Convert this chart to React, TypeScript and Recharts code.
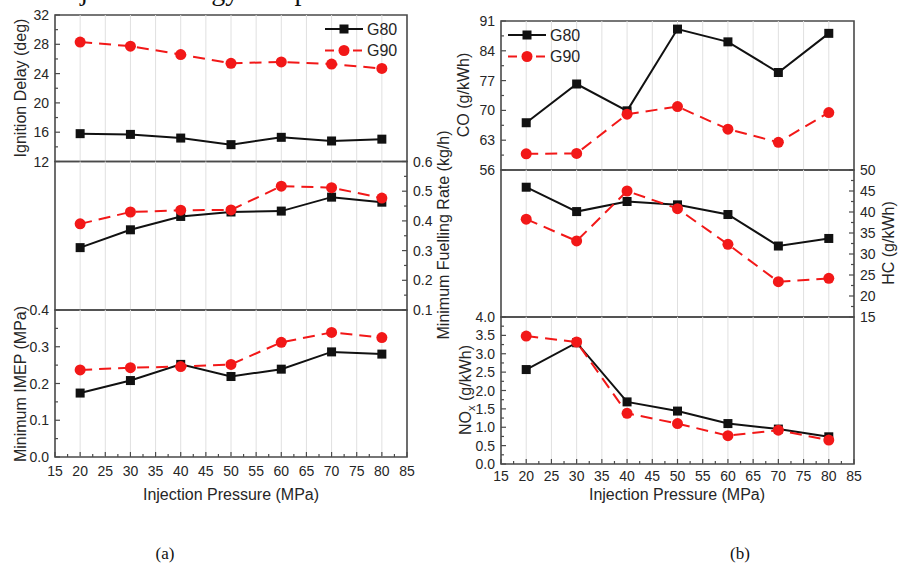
import React from 'react';
import { LineChart, Line, XAxis, YAxis, ReferenceLine, ReferenceArea, Legend } from 'recharts';

const W = 898;
const H = 564;
const LW = 50;
const RW = 44;
const XH = 40;

const FRAME = '#4a4a4a';
const GRID = '#e0e0e0';
const TEXT = '#262626';
const BLACK = '#111111';
const RED = '#f21818';
const SANS = '"Liberation Sans", Arial, Helvetica, sans-serif';
const SERIF = '"Liberation Serif", "Times New Roman", serif';

// ---- data ----
const pressure = [20, 30, 40, 50, 60, 70, 80];
const seriesNames = ['G80', 'G90'];

const ignitionG80 = [15.8, 15.7, 15.2, 14.3, 15.3, 14.8, 15.05];
const ignitionG90 = [28.3, 27.75, 26.6, 25.4, 25.6, 25.3, 24.7];
const fuelG80 = [0.31, 0.37, 0.415, 0.43, 0.433, 0.48, 0.463];
const fuelG90 = [0.39, 0.43, 0.436, 0.437, 0.517, 0.512, 0.477];
const imepG80 = [0.174, 0.208, 0.252, 0.219, 0.239, 0.286, 0.28];
const imepG90 = [0.237, 0.243, 0.246, 0.252, 0.312, 0.339, 0.325];
const coG80 = [67.1, 76.2, 69.9, 89.1, 86.1, 78.9, 88.1];
const coG90 = [59.8, 59.9, 69.1, 70.9, 65.6, 62.5, 69.5];
const hcG80 = [45.9, 40.1, 42.5, 41.7, 39.4, 31.9, 33.7];
const hcG90 = [38.3, 33.1, 45.0, 40.8, 32.3, 23.4, 24.2];
const noxG80 = [2.57, 3.3, 1.69, 1.44, 1.1, 0.95, 0.74];
const noxG90 = [3.48, 3.32, 1.38, 1.1, 0.77, 0.92, 0.65];

// ---- tick labels ----
const xMajor = [15, 20, 25, 30, 35, 40, 45, 50, 55, 60, 65, 70, 75, 80, 85];
const gridX = [20, 25, 30, 35, 40, 45, 50, 55, 60, 65, 70, 75, 80];
const ignitionTicks = [12, 16, 20, 24, 28, 32];
const fuelTicks = [0.1, 0.2, 0.3, 0.4, 0.5, 0.6];
const imepTicks = [0, 0.1, 0.2, 0.3, 0.4];
const coTicks = [56, 63, 70, 77, 84, 91];
const hcTicks = [15, 20, 25, 30, 35, 40, 45, 50];
const noxTicks = [0, 0.5, 1, 1.5, 2, 2.5, 3, 3.5, 4];

const withMinor = (m: number[]) => {
  const out: number[] = [];
  m.forEach((v, i) => {
    out.push(v);
    if (i < m.length - 1) out.push((v + m[i + 1]) / 2);
  });
  return out;
};

type Box = { x0: number; x1: number; y0: number; y1: number };

const isIn = (arr: number[], v: number) => arr.some((m) => Math.abs(m - v) < 1e-9);

function makeYTick(box: Box, side: 'left' | 'right', majors: number[], digits: number) {
  return (p: any) => {
    const v = p.payload.value as number;
    const y = p.y as number;
    const major = isIn(majors, v);
    const ax = side === 'left' ? box.x0 : box.x1;
    const len = major ? 5 : 3;
    const x2 = side === 'left' ? ax + len : ax - len;
    return (
      <g key={`yt-${v}`}>
        <line x1={ax} y1={y} x2={x2} y2={y} stroke={FRAME} strokeWidth={1.2} />
        {major && (
          <text x={p.x} y={y} dy="0.36em" textAnchor={side === 'left' ? 'end' : 'start'} fontSize={14} fill={TEXT} fontFamily={SANS}>
            {v.toFixed(digits)}
          </text>
        )}
      </g>
    );
  };
}

function makeXTick(box: Box, labelOffset: number) {
  return (p: any) => {
    const v = p.payload.value as number;
    const x = p.x as number;
    const major = isIn(xMajor, v);
    return (
      <g key={`xt-${v}`}>
        <line x1={x} y1={box.y1} x2={x} y2={box.y1 - (major ? 5 : 3)} stroke={FRAME} strokeWidth={1.2} />
        {major && (
          <text x={x} y={box.y1 + labelOffset} textAnchor="middle" fontSize={14} fill={TEXT} fontFamily={SANS}>
            {v}
          </text>
        )}
      </g>
    );
  };
}

const vText = (x: number, y: number, content: React.ReactNode) => (
  <text x={x} y={y} transform={`rotate(-90 ${x} ${y})`} textAnchor="middle" dy="0.35em" fontSize={16} fill={TEXT} fontFamily={SANS}>
    {content}
  </text>
);

const vTitle = (x: number, y: number, content: React.ReactNode, extra?: React.ReactNode) => () => (
  <g>
    {vText(x, y, content)}
    {extra}
  </g>
);

const hTitle = (x: number, y: number, text: string, caption: string, cx: number) => () => (
  <g>
    <text x={x} y={y} textAnchor="middle" fontSize={16} fill={TEXT} fontFamily={SANS}>
      {text}
    </text>
    <text x={cx} y={559} textAnchor="middle" fontSize={17} fill="#111" fontFamily={SERIF}>
      {caption}
    </text>
  </g>
);

const squareDot = (p: any) => (
  <rect key={`sq-${p.index}`} x={p.cx - 4.5} y={p.cy - 4.5} width={9} height={9} fill={BLACK} />
);

const renderLegend = () => (
  <svg width={90} height={46} style={{ display: 'block', overflow: 'visible' }}>
    {seriesNames.map((name, i) => {
      const cy = 12 + i * 21.5;
      return (
        <g key={name}>
          {i === 0 ? (
            <>
              <line x1={4} x2={42} y1={cy} y2={cy} stroke={BLACK} strokeWidth={2} />
              <rect x={23 - 4.5} y={cy - 4.5} width={9} height={9} fill={BLACK} />
            </>
          ) : (
            <>
              <line x1={4} x2={42} y1={cy} y2={cy} stroke={RED} strokeWidth={2} strokeDasharray="9 5" />
              <circle cx={23} cy={cy} r={5.5} fill={RED} />
            </>
          )}
          <text x={46} y={cy} dy="0.36em" fontSize={16} fill={TEXT} fontFamily={SANS}>
            {name}
          </text>
        </g>
      );
    })}
  </svg>
);

type PanelProps = {
  g80: number[];
  g90: number[];
  box: Box;
  side: 'left' | 'right';
  majors: number[];
  digits: number;
  bottom?: boolean;
  xLabelOffset?: number;
  yTitle: () => React.ReactElement;
  xTitle?: () => React.ReactElement;
  legendPos?: { left: number; top: number };
};

function Panel(props: PanelProps) {
  const { g80, g90, box, side, majors, digits, bottom, legendPos } = props;
  const rows = pressure.map((p, i) => ({ p, g80: g80[i], g90: g90[i] }));
  const yMin = majors[0];
  const yMax = majors[majors.length - 1];
  const yTicks = withMinor(majors);
  const margin = {
    top: box.y0,
    left: box.x0 - LW,
    right: W - box.x1 - RW,
    bottom: H - box.y1 - XH,
  };
  const other = side === 'left' ? 'right' : 'left';
  return (
    <div style={{ position: 'absolute', left: 0, top: 0, width: W, height: H }}>
      <LineChart width={W} height={H} margin={margin} data={rows}>
        {gridX.map((v) => (
          <ReferenceLine key={`g${v}`} x={v} yAxisId={side} stroke={GRID} strokeWidth={1} />
        ))}
        <ReferenceArea
          x1={15}
          x2={85}
          y1={yMin}
          y2={yMax}
          yAxisId={side}
          fill="none"
          fillOpacity={0}
          stroke={FRAME}
          strokeWidth={1.6}
          ifOverflow="visible"
        />
        <XAxis
          xAxisId={0}
          type="number"
          dataKey="p"
          domain={[15, 85]}
          ticks={bottom ? withMinor(xMajor) : []}
          interval={0}
          height={XH}
          tickLine={false}
          tickSize={0}
          tickMargin={0}
          tick={bottom ? makeXTick(box, props.xLabelOffset ?? 18) : false}
          axisLine={false}
          label={props.xTitle}
        />
        <YAxis
          yAxisId={side}
          orientation={side}
          width={side === 'left' ? LW : RW}
          type="number"
          domain={[yMin, yMax]}
          ticks={yTicks}
          interval={0}
          tickLine={false}
          tickSize={0}
          tickMargin={6}
          tick={makeYTick(box, side, majors, digits)}
          axisLine={false}
          label={props.yTitle}
        />
        <YAxis
          yAxisId={other}
          orientation={other}
          width={other === 'left' ? LW : RW}
          type="number"
          domain={[0, 1]}
          ticks={[]}
          tick={false}
          tickLine={false}
          axisLine={false}
        />
        <Line
          yAxisId={side}
          dataKey="g80"
          name={seriesNames[0]}
          type="linear"
          stroke={BLACK}
          strokeWidth={2}
          dot={squareDot}
          activeDot={false}
          isAnimationActive={false}
        />
        <Line
          yAxisId={side}
          dataKey="g90"
          name={seriesNames[1]}
          type="linear"
          stroke={RED}
          strokeWidth={2}
          strokeDasharray="12 7"
          dot={{ r: 5.5, fill: RED, stroke: RED, strokeWidth: 0 }}
          activeDot={false}
          isAnimationActive={false}
        />
        {legendPos && (
          <Legend
            layout="horizontal"
            verticalAlign="middle"
            align="center"
            wrapperStyle={{ left: legendPos.left, top: legendPos.top, width: 90, height: 46 }}
            content={renderLegend}
          />
        )}
      </LineChart>
    </div>
  );
}

const L1: Box = { x0: 55, x1: 407, y0: 15, y1: 161.5 };
const L2: Box = { x0: 55, x1: 407, y0: 161.5, y1: 310 };
const L3: Box = { x0: 55, x1: 407, y0: 310, y1: 457 };
const R1: Box = { x0: 501, x1: 854, y0: 21, y1: 170 };
const R2: Box = { x0: 501, x1: 854, y0: 170, y1: 317 };
const R3: Box = { x0: 501, x1: 854, y0: 317, y1: 464 };

const topCut = (
  <text x={57} y={-0.5} fontSize={28} fill="#111" fontFamily={SERIF}>
    Injection energy comparison
  </text>
);

export default function App() {
  return (
    <div
      style={{
        position: 'absolute',
        left: 0,
        top: 0,
        width: W,
        height: H,
        background: '#fff',
        fontFamily: SANS,
        overflow: 'hidden',
      }}
    >
      <Panel
        g80={ignitionG80}
        g90={ignitionG90}
        box={L1}
        side="left"
        majors={ignitionTicks}
        digits={0}
        yTitle={vTitle(20, 88, 'Ignition Delay (deg)', topCut)}
        legendPos={{ left: 321, top: 17 }}
      />
      <Panel
        g80={fuelG80}
        g90={fuelG90}
        box={L2}
        side="right"
        majors={fuelTicks}
        digits={1}
        yTitle={vTitle(443, 235, 'Minimum Fuelling Rate (kg/h)')}
      />
      <Panel
        g80={imepG80}
        g90={imepG90}
        box={L3}
        side="left"
        majors={imepTicks}
        digits={1}
        bottom
        xLabelOffset={19}
        yTitle={vTitle(20, 384, 'Minimum IMEP (MPa)')}
        xTitle={hTitle(231, 500, 'Injection Pressure (MPa)', '(a)', 165)}
      />
      <Panel
        g80={coG80}
        g90={coG90}
        box={R1}
        side="left"
        majors={coTicks}
        digits={0}
        yTitle={vTitle(463, 95, 'CO (g/kWh)')}
        legendPos={{ left: 504, top: 23 }}
      />
      <Panel
        g80={hcG80}
        g90={hcG90}
        box={R2}
        side="right"
        majors={hcTicks}
        digits={0}
        yTitle={vTitle(888, 243, 'HC (g/kWh)')}
      />
      <Panel
        g80={noxG80}
        g90={noxG90}
        box={R3}
        side="left"
        majors={noxTicks}
        digits={1}
        bottom
        xLabelOffset={17}
        yTitle={vTitle(
          465,
          390,
          <>
            NO
            <tspan dy="4" fontSize="11">
              x
            </tspan>
            <tspan dy="-4"> (g/kWh)</tspan>
          </>
        )}
        xTitle={hTitle(677, 500, 'Injection Pressure (MPa)', '(b)', 740)}
      />
    </div>
  );
}
